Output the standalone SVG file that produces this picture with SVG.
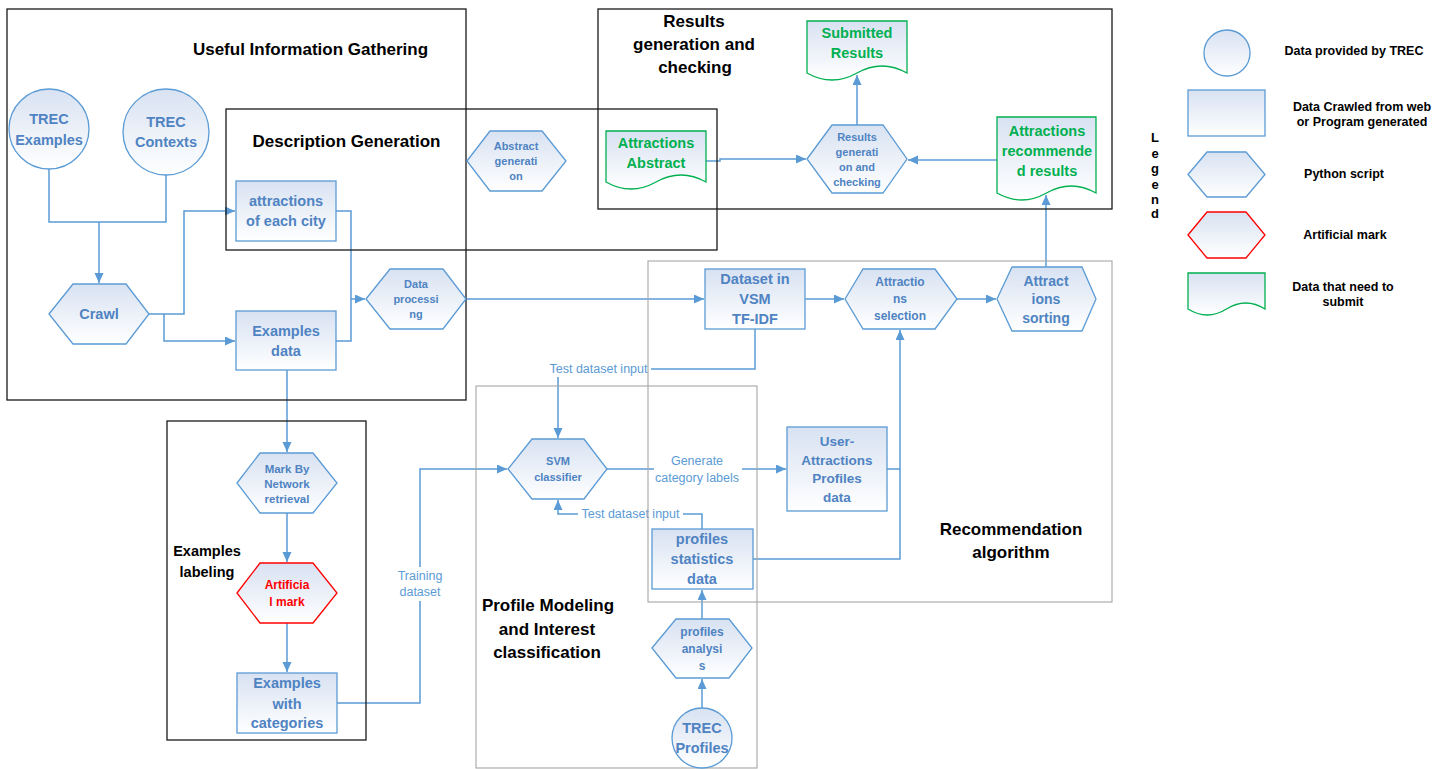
<svg xmlns="http://www.w3.org/2000/svg" width="1448" height="769" viewBox="0 0 1448 769">
<defs>
<linearGradient id="g" x1="0" y1="0" x2="0" y2="1">
<stop offset="0" stop-color="#d8e2f2"/>
<stop offset="1" stop-color="#ffffff"/>
</linearGradient>
<marker id="a" markerUnits="userSpaceOnUse" markerWidth="11" markerHeight="10" refX="10" refY="4.5" orient="auto">
<path d="M0,0 L10,4.5 L0,9 z" fill="#5b9bd5"/>
</marker>
<style>
.n{fill:url(#g);stroke:#5b9bd5;stroke-width:1.3}
.nr{fill:url(#g);stroke:#ff0000;stroke-width:1.3}
.ng{fill:url(#g);stroke:#00b050;stroke-width:1.3}
.c{fill:none;stroke:#5b9bd5;stroke-width:1.5}
.ca{fill:none;stroke:#5b9bd5;stroke-width:1.5;marker-end:url(#a)}
.box{fill:none;stroke:#1a1a1a;stroke-width:1.3}
.gbox{fill:none;stroke:#a6a6a6;stroke-width:1.1}
text{font-family:"Liberation Sans",Arial,sans-serif;text-anchor:middle;dominant-baseline:central}
.t{font-weight:bold;fill:#000;font-size:17px}
.t2{font-weight:bold;fill:#000;font-size:14.5px}
.b{font-weight:bold;fill:#4f83c2;font-size:14.5px}
.s{font-weight:bold;fill:#4f83c2;font-size:11px}
.gr{font-weight:bold;fill:#00b050;font-size:14.5px}
.rd{font-weight:bold;fill:#ff0000;font-size:12px}
.lab{fill:#5b9bd5;font-size:12.5px}
.lg{font-weight:bold;fill:#000;font-size:12.5px}
.bg{fill:#fff}
</style>
</defs>
<rect width="1448" height="769" fill="#fff"/>

<g id="connectors">
<path class="c" d="M49,169 V222 H166 V175"/>
<path class="ca" d="M99,222 V283"/>
<path class="ca" d="M149,314 H184 V211 H235"/>
<path class="ca" d="M164,314 V341 H235"/>
<path class="c" d="M336,211 H351 V341 H336"/>
<path class="ca" d="M351,299 H365"/>
<path class="ca" d="M466,299 H704"/>
<path class="ca" d="M287,370 V452"/>
<path class="ca" d="M287,513 V562"/>
<path class="ca" d="M287,623 V672"/>
<path class="ca" d="M337,703 H420 V469 H507"/>
<rect class="bg" x="396" y="567" width="48" height="34"/>
<text class="lab" x="420" y="576">Training</text>
<text class="lab" x="420" y="592">dataset</text>
<path class="ca" d="M755,329 V369 H558 V438"/>
<rect class="bg" x="546" y="361" width="105" height="16"/>
<text class="lab" x="598.5" y="369">Test dataset input</text>
<path class="ca" d="M607,469 H786"/>
<rect class="bg" x="654" y="452" width="88" height="35"/>
<text class="lab" x="697" y="461">Generate</text>
<text class="lab" x="697" y="478">category labels</text>
<path class="ca" d="M702,529 V514 H558 V500"/>
<rect class="bg" x="578" y="506" width="105" height="16"/>
<text class="lab" x="630.5" y="514">Test dataset input</text>
<path class="ca" d="M702,619 V590"/>
<path class="ca" d="M702,708 V679"/>
<path class="ca" d="M887,469 H900 V330"/>
<path class="c" d="M753,559 H900 V469"/>
<path class="ca" d="M805,299 H844"/>
<path class="ca" d="M957,299 H996"/>
<path class="ca" d="M1046,267 V195"/>
<path class="ca" d="M997,160 H908"/>
<path class="ca" d="M706,161 H720 V159 H806"/>
<path class="ca" d="M857,125 V75"/>
</g>

<g id="containers">
<rect class="box" x="7" y="9" width="459" height="391"/>
<rect class="box" x="226" y="109" width="491" height="141"/>
<rect class="box" x="598" y="9" width="514" height="200"/>
<rect class="box" x="167" y="421" width="199" height="319"/>
<rect class="gbox" x="476" y="386" width="281" height="382"/>
<rect class="gbox" x="648" y="261" width="464" height="341"/>
<text class="t" x="310.5" y="49">Useful Information Gathering</text>
<text class="t" x="346.5" y="141">Description Generation</text>
<text class="t" x="694" y="21">Results</text>
<text class="t" x="694" y="44">generation and</text>
<text class="t" x="695" y="67">checking</text>
<text class="t2" x="207" y="551">Examples</text>
<text class="t2" x="207" y="572">labeling</text>
<text class="t" x="548" y="605">Profile Modeling</text>
<text class="t" x="547" y="629">and Interest</text>
<text class="t" x="547" y="652">classification</text>
<text class="t" x="1011" y="529">Recommendation</text>
<text class="t" x="1011" y="552">algorithm</text>
</g>

<g id="trec-examples">
<circle class="n" cx="49" cy="129" r="40"/>
<text class="b" x="49" y="119">TREC</text>
<text class="b" x="49" y="140">Examples</text>
</g>
<g id="trec-contexts">
<circle class="n" cx="166" cy="132" r="43"/>
<text class="b" x="166" y="122">TREC</text>
<text class="b" x="166" y="142">Contexts</text>
</g>
<g id="crawl">
<polygon class="n" points="49,314 73,284 126,284 149,314 126,344 73,344"/>
<text class="b" x="99" y="314">Crawl</text>
</g>
<g id="attractions-city">
<rect class="n" x="236" y="181" width="100" height="60"/>
<text class="b" x="286" y="201">attractions</text>
<text class="b" x="286" y="221">of each city</text>
</g>
<g id="examples-data">
<rect class="n" x="236" y="311" width="100" height="59"/>
<text class="b" x="286" y="331">Examples</text>
<text class="b" x="286" y="351">data</text>
</g>
<g id="data-processing">
<polygon class="n" points="366,299 390,269 443,269 466,299 443,329 390,329"/>
<text class="s" x="416" y="284">Data</text>
<text class="s" x="416" y="299">processi</text>
<text class="s" x="416" y="314">ng</text>
</g>
<g id="abstract-generation">
<polygon class="n" points="467,161 490,131 542,131 566,161 542,191 490,191"/>
<text class="s" x="516" y="146">Abstract</text>
<text class="s" x="516" y="161">generati</text>
<text class="s" x="516" y="176">on</text>
</g>
<g id="attractions-abstract">
<path class="ng" d="M606,131 H706 V182 Q681,168 656,182 T606,182 Z"/>
<text class="gr" x="656" y="143">Attractions</text>
<text class="gr" x="656" y="163">Abstract</text>
</g>
<g id="results-generation">
<polygon class="n" points="807,159 832,125 883,125 907,159 883,193 832,193"/>
<text class="s" x="857" y="137">Results</text>
<text class="s" x="857" y="152">generati</text>
<text class="s" x="857" y="167">on and</text>
<text class="s" x="857" y="182">checking</text>
</g>
<g id="submitted-results">
<path class="ng" d="M807,21 H907 V73 Q882,59 857,73 T807,73 Z"/>
<text class="gr" x="857" y="33">Submitted</text>
<text class="gr" x="857" y="53">Results</text>
</g>
<g id="attractions-recommended">
<path class="ng" d="M997,117 H1096 V193 Q1071.25,179 1046.5,193 T997,193 Z"/>
<text class="gr" x="1047" y="131">Attractions</text>
<text class="gr" x="1047" y="151">recommende</text>
<text class="gr" x="1047" y="171">d results</text>
</g>
<g id="dataset-vsm">
<rect class="n" x="705" y="269" width="100" height="60"/>
<text class="b" x="755" y="279">Dataset in</text>
<text class="b" x="755" y="299">VSM</text>
<text class="b" x="755" y="319">TF-IDF</text>
</g>
<g id="attractions-selection">
<polygon class="n" points="845,299 863,269 935,269 957,299 935,329 863,329"/>
<text class="s" style="font-size:12px" x="900" y="282">Attractio</text>
<text class="s" style="font-size:12px" x="900" y="299">ns</text>
<text class="s" style="font-size:12px" x="900" y="316">selection</text>
</g>
<g id="attractions-sorting">
<polygon class="n" points="997,299 1012,267 1082,267 1096,299 1082,331 1012,331"/>
<text class="b" style="font-size:14px" x="1046" y="281">Attract</text>
<text class="b" style="font-size:14px" x="1046" y="299">ions</text>
<text class="b" style="font-size:14px" x="1046" y="318">sorting</text>
</g>
<g id="svm-classifier">
<polygon class="n" points="508,469 532,439 584,439 607,469 584,499 532,499"/>
<text class="s" x="558" y="461">SVM</text>
<text class="s" x="558" y="477">classifier</text>
</g>
<g id="user-attractions">
<rect class="n" x="787" y="427" width="100" height="84"/>
<text class="b" style="font-size:13.5px" x="837" y="441">User-</text>
<text class="b" style="font-size:13.5px" x="837" y="460">Attractions</text>
<text class="b" style="font-size:13.5px" x="837" y="478">Profiles</text>
<text class="b" style="font-size:13.5px" x="837" y="497">data</text>
</g>
<g id="profiles-statistics">
<rect class="n" x="652" y="529" width="101" height="60"/>
<text class="b" x="702" y="539">profiles</text>
<text class="b" x="702" y="559">statistics</text>
<text class="b" x="702" y="579">data</text>
</g>
<g id="profiles-analysis">
<polygon class="n" points="652,648 676,619 729,619 752,648 729,678 676,678"/>
<text class="s" style="font-size:12px" x="702" y="632">profiles</text>
<text class="s" style="font-size:12px" x="702" y="649">analysi</text>
<text class="s" style="font-size:12px" x="702" y="666">s</text>
</g>
<g id="trec-profiles">
<circle class="n" cx="702" cy="738" r="30"/>
<text class="b" x="702" y="728">TREC</text>
<text class="b" x="702" y="748">Profiles</text>
</g>
<g id="mark-by-network">
<polygon class="n" points="237,483 260,453 313,453 337,483 313,513 260,513"/>
<text class="s" style="font-size:11.5px" x="287" y="469">Mark By</text>
<text class="s" style="font-size:11.5px" x="287" y="484">Network</text>
<text class="s" style="font-size:11.5px" x="287" y="499">retrieval</text>
</g>
<g id="artificial-mark">
<polygon class="nr" points="237,593 260,563 313,563 337,593 313,623 260,623"/>
<text class="rd" x="287" y="585">Artificia</text>
<text class="rd" x="287" y="602">l mark</text>
</g>
<g id="examples-categories">
<rect class="n" x="237" y="673" width="100" height="60"/>
<text class="b" x="287" y="683">Examples</text>
<text class="b" x="287" y="704">with</text>
<text class="b" x="287" y="723">categories</text>
</g>

<g id="legend">
<text class="lg" style="font-size:13px" x="1155" y="137">L</text>
<text class="lg" style="font-size:13px" x="1155" y="153">e</text>
<text class="lg" style="font-size:13px" x="1155" y="168">g</text>
<text class="lg" style="font-size:13px" x="1155" y="184">e</text>
<text class="lg" style="font-size:13px" x="1155" y="199">n</text>
<text class="lg" style="font-size:13px" x="1155" y="213">d</text>
<circle class="n" cx="1227" cy="53" r="23"/>
<text class="lg" x="1354" y="51">Data provided by TREC</text>
<rect class="n" x="1188" y="90" width="77" height="46"/>
<text class="lg" x="1362" y="107">Data Crawled from web</text>
<text class="lg" x="1362" y="122">or Program generated</text>
<polygon class="n" points="1188,174.5 1207,152 1246,152 1265,174.5 1246,197 1207,197"/>
<text class="lg" x="1344" y="174">Python script</text>
<polygon class="nr" points="1188,235 1207,212 1246,212 1265,235 1246,258 1207,258"/>
<text class="lg" x="1345" y="235">Artificial mark</text>
<path class="ng" d="M1188,273 H1265 V309 Q1245.75,297 1226.5,309 T1188,309 Z"/>
<text class="lg" x="1343" y="287">Data that need to</text>
<text class="lg" x="1343" y="302">submit</text>
</g>
</svg>
